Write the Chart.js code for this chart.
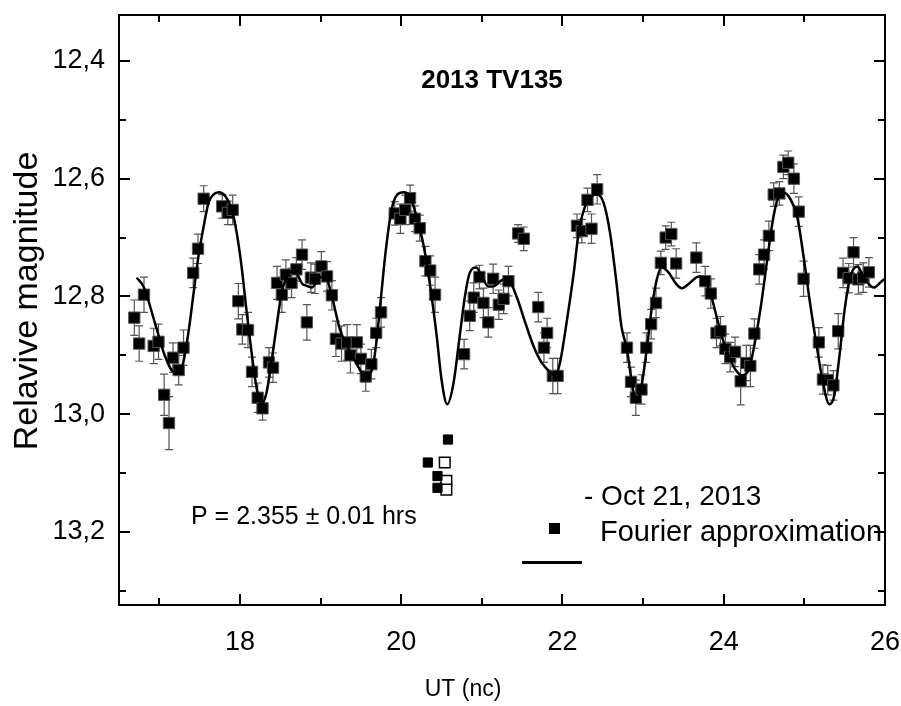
<!DOCTYPE html>
<html><head><meta charset="utf-8">
<script src="https://cdn.jsdelivr.net/npm/chart.js@4"></script>
<style>html,body{margin:0;padding:0;background:#fff;}canvas{display:block;}</style>
</head><body>
<canvas id="c" width="901" height="706" style="width:901px;height:706px"></canvas>
<script>
// ---- data ----
const obsX = [16.69,16.75,16.81,16.93,16.99,17.06,17.12,17.17,17.24,17.30,17.42,17.48,17.55,17.78,17.85,17.91,17.98,18.03,18.10,18.15,18.22,18.28,18.36,18.41,18.46,18.52,18.57,18.64,18.70,18.77,18.83,18.88,18.93,19.01,19.08,19.14,19.19,19.26,19.33,19.37,19.45,19.50,19.56,19.63,19.69,19.75,19.92,19.99,20.05,20.11,20.17,20.23,20.30,20.36,20.42,20.78,20.85,20.90,20.97,21.02,21.08,21.14,21.21,21.27,21.33,21.45,21.52,21.70,21.77,21.81,21.88,21.94,22.18,22.24,22.31,22.36,22.43,22.80,22.85,22.91,22.98,23.04,23.10,23.16,23.22,23.28,23.35,23.41,23.66,23.77,23.84,23.91,23.96,24.02,24.08,24.14,24.21,24.28,24.33,24.38,24.44,24.50,24.56,24.62,24.69,24.74,24.80,24.87,24.93,24.99,25.18,25.23,25.29,25.36,25.42,25.48,25.55,25.61,25.67,25.73,25.80];
const obsY = [12.836,12.880,12.797,12.884,12.877,12.967,13.015,12.904,12.925,12.887,12.760,12.719,12.634,12.647,12.658,12.653,12.808,12.856,12.857,12.928,12.972,12.990,12.912,12.921,12.777,12.797,12.763,12.777,12.754,12.729,12.844,12.768,12.770,12.749,12.766,12.798,12.872,12.880,12.878,12.900,12.878,12.906,12.936,12.915,12.862,12.827,12.659,12.668,12.653,12.633,12.668,12.684,12.740,12.756,12.797,12.898,12.833,12.802,12.767,12.811,12.844,12.770,12.814,12.804,12.774,12.693,12.702,12.818,12.887,12.862,12.935,12.935,12.680,12.689,12.636,12.685,12.618,12.887,12.945,12.972,12.958,12.887,12.847,12.811,12.743,12.700,12.694,12.744,12.734,12.774,12.795,12.862,12.859,12.889,12.903,12.894,12.944,12.913,12.918,12.863,12.754,12.729,12.697,12.627,12.625,12.580,12.573,12.600,12.656,12.770,12.878,12.941,12.942,12.951,12.859,12.760,12.769,12.725,12.771,12.768,12.759];
const obsErr = [0.030,0.030,0.030,0.030,0.030,0.035,0.045,0.025,0.025,0.030,0.025,0.025,0.022,0.020,0.020,0.025,0.030,0.025,0.030,0.025,0.025,0.020,0.025,0.025,0.028,0.030,0.025,0.025,0.020,0.025,0.030,0.025,0.025,0.025,0.025,0.025,0.030,0.030,0.030,0.030,0.030,0.025,0.025,0.025,0.025,0.025,0.020,0.025,0.025,0.022,0.022,0.022,0.025,0.025,0.030,0.025,0.025,0.025,0.020,0.025,0.025,0.025,0.025,0.025,0.025,0.015,0.020,0.025,0.025,0.025,0.030,0.030,0.020,0.020,0.020,0.025,0.025,0.025,0.025,0.030,0.025,0.025,0.025,0.025,0.020,0.020,0.020,0.025,0.025,0.025,0.025,0.025,0.025,0.025,0.025,0.025,0.040,0.030,0.035,0.025,0.025,0.025,0.025,0.020,0.020,0.020,0.020,0.025,0.025,0.030,0.025,0.025,0.025,0.025,0.030,0.025,0.025,0.025,0.025,0.025,0.025];
const fitX = [16.72,16.81,16.95,17.07,17.19,17.28,17.36,17.42,17.48,17.55,17.61,17.67,17.74,17.82,17.90,17.96,18.02,18.08,18.15,18.21,18.27,18.33,18.39,18.46,18.52,18.58,18.64,18.70,18.77,18.83,18.89,18.99,19.06,19.14,19.24,19.35,19.45,19.55,19.64,19.69,19.75,19.81,19.88,19.95,20.03,20.11,20.19,20.28,20.36,20.44,20.50,20.57,20.65,20.72,20.79,20.85,20.93,21.00,21.08,21.14,21.23,21.31,21.43,21.54,21.64,21.74,21.85,21.91,21.97,22.05,22.14,22.20,22.28,22.36,22.43,22.51,22.59,22.67,22.73,22.80,22.86,22.92,22.98,23.05,23.11,23.17,23.23,23.32,23.40,23.48,23.58,23.69,23.77,23.84,23.92,24.00,24.08,24.16,24.23,24.31,24.37,24.46,24.54,24.60,24.66,24.74,24.82,24.91,24.99,25.07,25.16,25.23,25.31,25.37,25.43,25.50,25.57,25.66,25.73,25.86,25.96,26.00];
const fitY = [12.768,12.785,12.847,12.901,12.929,12.920,12.862,12.800,12.737,12.681,12.641,12.627,12.623,12.630,12.653,12.692,12.749,12.822,12.901,12.958,12.983,12.963,12.912,12.845,12.791,12.768,12.757,12.760,12.778,12.782,12.785,12.768,12.766,12.800,12.856,12.890,12.915,12.935,12.924,12.880,12.800,12.720,12.653,12.627,12.623,12.630,12.664,12.715,12.783,12.867,12.941,12.983,12.946,12.873,12.800,12.760,12.751,12.766,12.783,12.783,12.774,12.768,12.800,12.845,12.884,12.912,12.929,12.935,12.912,12.845,12.760,12.692,12.647,12.630,12.627,12.641,12.692,12.777,12.850,12.890,12.946,12.980,12.952,12.884,12.817,12.771,12.751,12.760,12.777,12.786,12.777,12.766,12.774,12.797,12.839,12.878,12.907,12.927,12.934,12.924,12.890,12.817,12.737,12.678,12.638,12.624,12.633,12.664,12.732,12.811,12.890,12.946,12.983,12.969,12.907,12.822,12.766,12.749,12.766,12.785,12.774,12.770];
const strayFilledX = [20.58,20.33,20.45,20.45];
const strayFilledY = [13.043,13.082,13.105,13.125];
const strayOpenX = [20.54,20.56,20.56];
const strayOpenY = [13.082,13.113,13.128];
const xTickValues = [18,20,22,24,26];
const xTickLabels = ['18','20','22','24','26'];
const xMinorTicks = [17,19,21,23,25];
const yTickValues = [12.4,12.6,12.8,13.0,13.2];
const yTickLabels = ['12,4','12,6','12,8','13,0','13,2'];
const yMinorTicks = [12.5,12.7,12.9,13.1,13.3];
const titleText = '2013 TV135';
const periodText = 'P = 2.355 \u00B1 0.01 hrs';
const legendDate = '- Oct 21, 2013';
const legendFit = 'Fourier approximation';
const xTitle = 'UT (nc)';
const yTitle = 'Relavive magnitude';

const FONT = "'Liberation Sans', Arial, sans-serif";
const pts = (xs, ys) => xs.map((x, i) => ({x, y: ys[i]}));
const labelFor = (vals, labs, v) => {
  let best = 0;
  vals.forEach((t, i) => { if (Math.abs(t - v) < Math.abs(vals[best] - v)) best = i; });
  return labs[best];
};

const framePlugin = {
  id: 'frame',
  beforeDatasetsDraw(chart) {
    const ctx = chart.ctx, xs = chart.scales.x, ys = chart.scales.y;
    const ds = chart.data.datasets[1].data;
    ctx.save();
    ctx.strokeStyle = '#555';
    ctx.lineWidth = 1.2;
    ds.forEach((p, i) => {
      const e = obsErr[i];
      const px = xs.getPixelForValue(p.x);
      const y1 = ys.getPixelForValue(p.y - e), y2 = ys.getPixelForValue(p.y + e);
      ctx.beginPath();
      ctx.moveTo(px, y1); ctx.lineTo(px, y2);
      ctx.moveTo(px - 4, y1); ctx.lineTo(px + 4, y1);
      ctx.moveTo(px - 4, y2); ctx.lineTo(px + 4, y2);
      ctx.stroke();
    });
    ctx.restore();
  },
  afterDraw(chart) {
    const ctx = chart.ctx, a = chart.chartArea, xs = chart.scales.x, ys = chart.scales.y;
    ctx.save();
    ctx.fillStyle = '#000';
    ctx.textBaseline = 'middle';
    ctx.font = 'bold 26px ' + FONT;
    ctx.textAlign = 'center';
    ctx.fillText(titleText, 492, 81);
    ctx.font = '23px ' + FONT;
    ctx.fillText(xTitle, 463, 690);
    ctx.save();
    ctx.translate(28, 301);
    ctx.rotate(-Math.PI / 2);
    ctx.font = '34px ' + FONT;
    ctx.fillText(yTitle, 0, 0);
    ctx.restore();
    ctx.textAlign = 'left';
    ctx.font = '25px ' + FONT;
    ctx.fillText(periodText, 191, 517);
    ctx.font = '28px ' + FONT;
    ctx.fillText(legendDate, 584, 497);
    ctx.font = '29px ' + FONT;
    ctx.fillText(legendFit, 600, 533);
    ctx.fillRect(549, 523, 11, 11);
    ctx.fillRect(522, 561, 60, 3);
    // frame
    ctx.strokeStyle = '#000';
    ctx.lineWidth = 2;
    ctx.strokeRect(a.left, a.top, a.right - a.left, a.bottom - a.top);
    ctx.beginPath();
    const tk = (vals, len, horiz) => vals.forEach(v => {
      if (horiz) {
        const px = Math.round(xs.getPixelForValue(v));
        ctx.moveTo(px, a.bottom); ctx.lineTo(px, a.bottom - len);
        ctx.moveTo(px, a.top); ctx.lineTo(px, a.top + len);
      } else {
        const py = Math.round(ys.getPixelForValue(v));
        ctx.moveTo(a.left, py); ctx.lineTo(a.left + len, py);
        ctx.moveTo(a.right, py); ctx.lineTo(a.right - len, py);
      }
    });
    tk(xTickValues, 11, true);
    tk(xMinorTicks, 7, true);
    tk(yTickValues, 11, false);
    tk(yMinorTicks, 7, false);
    ctx.stroke();
    ctx.restore();
  }
};

new Chart(document.getElementById('c'), {
  type: 'scatter',
  data: {
    datasets: [
      {
        type: 'line', label: legendFit, data: pts(fitX, fitY),
        borderColor: '#000', borderWidth: 2.5, pointRadius: 0,
        cubicInterpolationMode: 'monotone', fill: false, order: 0
      },
      {
        label: legendDate, data: pts(obsX, obsY),
        pointStyle: 'rect', pointRadius: 8, backgroundColor: '#000',
        borderColor: '#555', borderWidth: 1, order: 1
      },
      {
        label: 'stray', data: pts(strayFilledX, strayFilledY),
        pointStyle: 'rect', pointRadius: 6.5, backgroundColor: '#000',
        borderColor: '#000', borderWidth: 1, order: 2
      },
      {
        label: 'stray open', data: pts(strayOpenX, strayOpenY),
        pointStyle: 'rect', pointRadius: 7.5, backgroundColor: '#fff',
        borderColor: '#000', borderWidth: 1.5, order: 2
      }
    ]
  },
  options: {
    responsive: false, animation: false,
    layout: { padding: { left: 0, right: 16, top: 15, bottom: 0 } },
    plugins: { legend: { display: false }, tooltip: { enabled: false } },
    scales: {
      x: {
        type: 'linear', position: 'bottom', min: 16.5, max: 26,
        grid: { display: false, drawTicks: false }, border: { display: false },
        afterBuildTicks: s => { s.ticks = xTickValues.map(v => ({ value: v })); },
        afterFit: s => { s.height = 101; s.paddingLeft = 0; s.paddingRight = 0; },
        ticks: { color: '#000', font: { family: FONT, size: 27 }, padding: 21, maxRotation: 0,
          callback: v => labelFor(xTickValues, xTickLabels, v) },
        title: { display: false }
      },
      y: {
        type: 'linear', position: 'left', min: 12.322, max: 13.324, reverse: true,
        grid: { display: false, drawTicks: false }, border: { display: false },
        afterBuildTicks: s => { s.ticks = yTickValues.map(v => ({ value: v })); },
        afterFit: s => { s.width = 119; s.paddingTop = 0; s.paddingBottom = 0; },
        ticks: { color: '#000', font: { family: FONT, size: 27 }, padding: 14,
          callback: v => labelFor(yTickValues, yTickLabels, v) },
        title: { display: false }
      }
    }
  },
  plugins: [framePlugin]
});
</script>
</body></html>
